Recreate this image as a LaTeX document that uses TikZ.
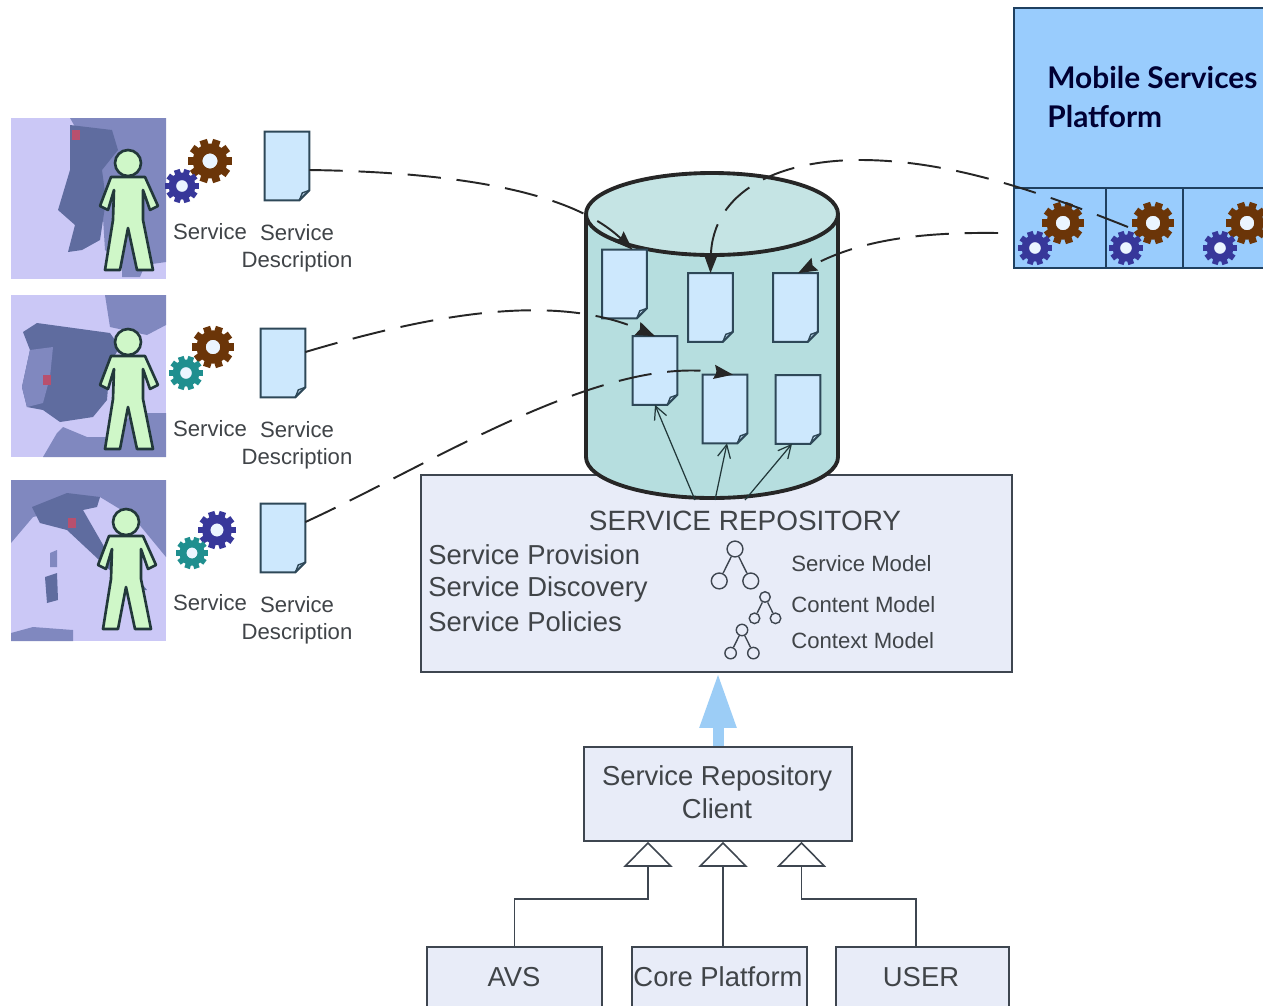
\documentclass[tikz,border=0pt]{standalone}
\usepackage{fontspec}
\setmainfont{Liberation Sans}
\newfontfamily\platformfont{Lato}
\usetikzlibrary{arrows.meta, positioning}
\definecolor{seablue}{HTML}{CBC8F6}
\definecolor{landmid}{HTML}{8088BF}
\definecolor{landdark}{HTML}{5F6C9F}
\definecolor{markred}{HTML}{B8506E}
\definecolor{bodygreen}{HTML}{CFF7C8}
\definecolor{inkdark}{HTML}{22383A}
\definecolor{docblue}{HTML}{CDE8FD}
\definecolor{docline}{HTML}{2E4858}
\definecolor{storeside}{HTML}{B6DEDF}
\definecolor{storetop}{HTML}{C5E4E4}
\definecolor{boxfill}{HTML}{E8ECF8}
\definecolor{boxline}{HTML}{3E4650}
\definecolor{platformblue}{HTML}{99CCFD}
\definecolor{platformline}{HTML}{1F4060}
\definecolor{bigarrow}{HTML}{9CCDF6}
\definecolor{cogbrown}{HTML}{6B3508}
\definecolor{cogblue}{HTML}{37379A}
\definecolor{cogteal}{HTML}{1F8F8F}
\definecolor{labelgrey}{HTML}{404448}
\tikzstyle{servicedoc} = [inner sep=0pt, minimum width=.88cm, minimum height=1.36cm, append after command={\pgfextra{\draw[docline, fill=docblue, line width=1.2pt] (\tikzlastnode.north west) -- (\tikzlastnode.north east) -- ([yshift=.2cm]\tikzlastnode.south east) -- ([xshift=-.2cm]\tikzlastnode.south east) -- (\tikzlastnode.south west) -- cycle; \draw[docline, line width=.8pt] ([yshift=.2cm]\tikzlastnode.south east) -- ([xshift=-.14cm, yshift=.15cm]\tikzlastnode.south east) -- ([xshift=-.2cm]\tikzlastnode.south east);}}]
\tikzstyle{umlbox} = [draw=boxline, fill=boxfill, line width=.9pt, inner sep=0pt, text=labelgrey, font=\fontsize{15.6}{18.7}\selectfont, align=center]
\tikzstyle{platformbox} = [draw=platformline, fill=platformblue, line width=1pt, inner sep=0pt]
\tikzstyle{smalllabel} = [text=labelgrey, font=\fontsize{12.6}{15.3}\selectfont, align=center, inner sep=0pt]
\tikzstyle{biglabel} = [text=labelgrey, font=\fontsize{15.6}{18.9}\selectfont, anchor=west, inner sep=0pt]
\tikzstyle{dashlink} = [draw=black!85, line width=1.1pt, dash pattern=on 19pt off 9pt, -{Stealth[length=.38cm,width=.28cm,inset=.05cm]}]
\tikzstyle{fanlink} = [draw=inkdark, line width=.7pt, -{Straight Barb[length=.26cm,width=.26cm]}]
\tikzstyle{inheritlink} = [draw=boxline, line width=.9pt, -{Triangle[open, length=.5cm, width=.98cm]}]
\tikzstyle{modelnode} = [circle, draw=boxline, line width=.8pt, inner sep=0pt]
\tikzset{person/.pic={
	\draw[inkdark, fill=bodygreen, line width=1.5pt, line join=round] (-17,14) -- (17,14) -- (30,43) -- (22,47) -- (15,27) -- (15,57) -- (25,107) -- (9,107) -- (0,65) -- (-8,107) -- (-23,107) -- (-15,57) -- (-14,27) -- (-20,47) -- (-28,43) -- cycle;
	\draw[inkdark, fill=bodygreen, line width=1.5pt] (0,0) circle (13);
}}
\newcommand{\cog}[4]{
	\foreach \a in {0,36,...,324}
		\draw[#4, line width=#3*.2pt] (#1,#2) ++(\a:#3*.65) -- ++(\a:#3*.35);
	\draw[#4, line width=#3*.25pt, fill=white!80!platformblue] (#1,#2) circle (#3*.57);
}
\newcommand{\modeltree}[4]{
	\node[modelnode, minimum size=#4] (#1top) at (#2,#3) {};
	\node[modelnode, minimum size=#4] (#1left) at (#2-#4*1.75,#3+#4*3.55) {};
	\node[modelnode, minimum size=#4] (#1right) at (#2+#4*1.75,#3+#4*3.55) {};
	\draw[boxline, line width=.8pt] (#1left) -- (#1top) -- (#1right);
}
\begin{document}
\begin{tikzpicture}[x=.02cm, y=-.02cm]
	\useasboundingbox (0,0) rectangle (1263,1005);
	\clip (0,0) rectangle (1263,1005);
	\fill[white] (0,0) rectangle (1263,1005);
	\begin{scope}
		\clip (11,118) rectangle (166,279);
		\fill[seablue] (11,118) rectangle (166,279);
		\fill[landmid] (70,118) -- (166,118) -- (166,262) -- (145,265) -- (140,277) -- (122,277) -- (122,265) -- (105,250) -- (100,170) -- cycle;
		\fill[landdark] (70,125) -- (112,130) -- (118,150) -- (102,170) -- (106,200) -- (100,240) -- (82,250) -- (68,252) -- (75,225) -- (58,210) -- (70,170) -- cycle;
		\fill[markred] (72,130) rectangle (80,140);
	\end{scope}
	\begin{scope}
		\clip (11,295) rectangle (166,457);
		\fill[seablue] (11,295) rectangle (166,457);
		\fill[landmid] (105,295) -- (166,295) -- (166,325) -- (147,335) -- (110,327) -- cycle;
		\fill[landmid] (43,457) -- (57,433) -- (63,427) -- (87,437) -- (110,437) -- (133,413) -- (166,413) -- (166,457) -- cycle;
		\fill[landdark] (23,332) -- (37,323) -- (110,333) -- (120,347) -- (110,363) -- (107,400) -- (93,417) -- (60,422) -- (43,410) -- (27,407) -- (22,387) -- (30,350) -- cycle;
		\fill[landmid] (30,350) -- (53,347) -- (50,377) -- (43,403) -- (27,407) -- (22,387) -- cycle;
		\fill[markred] (43,375) rectangle (51,385);
	\end{scope}
	\begin{scope}
		\clip (11,480) rectangle (166,641);
		\fill[seablue] (11,480) rectangle (166,641);
		\fill[landmid] (11,480) -- (166,480) -- (166,557) -- (133,517) -- (100,497) -- (97,503) -- (33,517) -- (11,543) -- cycle;
		\fill[landdark] (32,507) -- (67,493) -- (100,497) -- (97,507) -- (83,510) -- (110,557) -- (133,573) -- (147,590) -- (133,590) -- (113,573) -- (67,530) -- (40,523) -- cycle;
		\fill[landdark] (45,577) -- (57,573) -- (58,600) -- (47,603) -- cycle;
		\fill[landmid] (50,553) -- (57,550) -- (57,567) -- (50,567) -- cycle;
		\fill[landmid] (11,633) -- (33,627) -- (73,630) -- (73,641) -- (11,641) -- cycle;
		\fill[markred] (68,518) rectangle (76,528);
	\end{scope}
	\pic at (128,163) {person};
	\pic at (128,342) {person};
	\pic at (126,522) {person};
	\cog{210}{161}{22}{cogbrown}
	\cog{182}{186}{17}{cogblue}
	\cog{213}{347}{21}{cogbrown}
	\cog{186}{373}{17}{cogteal}
	\cog{217}{530}{19}{cogblue}
	\cog{192}{553}{16}{cogteal}
	\node[servicedoc] (sdocA) at (287,166) {};
	\node[servicedoc] (sdocB) at (283,363) {};
	\node[servicedoc] (sdocC) at (283,538) {};
	\node[smalllabel] (svcA) at (210,232) {Service};
	\node[smalllabel] (svcB) at (210,429) {Service};
	\node[smalllabel] (svcC) at (210,603) {Service};
	\node[smalllabel] (descA) at (297,248) {Service\\Description};
	\node[smalllabel] (descB) at (297,445) {Service\\Description};
	\node[smalllabel] (descC) at (297,620) {Service\\Description};
	\node[platformbox, minimum width=5.22cm, minimum height=3.6cm, line width=1.3pt] (platform) at (1144.5,98) {};
	\node[platformbox, minimum width=1.84cm, minimum height=1.6cm] (cellA) at (1060,228) {};
	\node[platformbox, minimum width=1.54cm, minimum height=1.6cm] (cellB) at (1144.5,228) {};
	\node[platformbox, minimum width=1.84cm, minimum height=1.6cm] (cellC) at (1229,228) {};
	\node[anchor=west, align=left, inner sep=0pt, text=black!80!blue, font=\platformfont\bfseries\fontsize{17}{22}\selectfont] (platformtext) at (1047,97) {Mobile Services\\Platform};
	\cog{1063}{223}{21}{cogbrown}
	\cog{1035}{248}{17}{cogblue}
	\cog{1153}{223}{21}{cogbrown}
	\cog{1126}{248}{17}{cogblue}
	\cog{1247}{223}{21}{cogbrown}
	\cog{1220}{248}{17}{cogblue}
	\node[umlbox, minimum width=11.82cm, minimum height=3.94cm] (repobox) at (716.5,573.5) {};
	\draw[storeside, fill=storeside] (586,214) -- (586,457) arc (180:0:126 and 41) -- (838,214) -- cycle;
	\draw[black!85, line width=2.2pt] (586,214) -- (586,457) arc (180:0:126 and 41) -- (838,214);
	\draw[black!85, fill=storetop, line width=2.2pt] (712,214) circle (126 and 41);
	\node[servicedoc] (repoA) at (624.5,284) {};
	\node[servicedoc] (repoB) at (710.5,307.5) {};
	\node[servicedoc] (repoC) at (795.5,307.5) {};
	\node[servicedoc] (repoD) at (655,370.5) {};
	\node[servicedoc] (repoE) at (725,409) {};
	\node[servicedoc] (repoF) at (798,409.5) {};
	\node[inner sep=0pt, text=labelgrey, font=\fontsize{15.9}{18}\selectfont] (repotitle) at (745,521) {SERVICE REPOSITORY};
	\node[biglabel] (provision) at (428,555) {Service Provision};
	\node[biglabel] (discovery) at (428,589) {Service Discovery};
	\node[biglabel] (policies) at (428,622) {Service Policies};
	\node[smalllabel, anchor=west] (servicemodel) at (791,564) {Service Model};
	\node[smalllabel, anchor=west] (contentmodel) at (791,605) {Content Model};
	\node[smalllabel, anchor=west] (contextmodel) at (791,641) {Context Model};
	\modeltree{treeA}{735}{549}{9}
	\modeltree{treeB}{765}{597}{6}
	\modeltree{treeC}{742}{630}{6.5}
	\node[umlbox, minimum width=5.36cm, minimum height=1.88cm] (clientbox) at (718,794) {};
	\node[inner sep=0pt, text=labelgrey, align=center, font=\fontsize{15.6}{18.7}\selectfont] (clienttext) at (717,792) {Service Repository\\Client};
	\node[umlbox, minimum width=3.5cm, minimum height=1.4cm] (avsbox) at (514.5,982) {};
	\node[umlbox, minimum width=3.5cm, minimum height=1.4cm] (corebox) at (719.5,982) {};
	\node[umlbox, minimum width=3.46cm, minimum height=1.4cm] (userbox) at (922.5,982) {};
	\node[text=labelgrey, inner sep=0pt, font=\fontsize{15.6}{18}\selectfont] (avstext) at (514,977) {AVS};
	\node[text=labelgrey, inner sep=0pt, font=\fontsize{15.6}{18}\selectfont] (coretext) at (718,977) {Core Platform};
	\node[text=labelgrey, inner sep=0pt, font=\fontsize{15.6}{18}\selectfont] (usertext) at (921,977) {USER};
	\draw[inheritlink] (avsbox.north) -- ++(0,-47) -| ([xshift=-1.4cm]clientbox.south);
	\draw[inheritlink] ([xshift=.07cm]corebox.north) -- ([xshift=.1cm]clientbox.south);
	\draw[inheritlink] (userbox.north) ++(-6.5,0) -- ++(0,-47) -| ([xshift=1.67cm]clientbox.south);
	\draw[bigarrow, line width=.22cm, -{Triangle[length=1.1cm,width=.68cm]}] (clientbox.north) -- (clientbox.north |- repobox.south);
	\coordinate (fanA) at (695,500);
	\coordinate (fanB) at (715,500);
	\coordinate (fanC) at (745,500);
	\draw[fanlink] (fanA) -- (repoD.south);
	\draw[fanlink] (fanB) -- ([xshift=.04cm]repoE.south);
	\draw[fanlink] (fanC) -- ([xshift=-.12cm]repoF.south);
	\coordinate (gearstart) at (1128,227);
	\coordinate (cellstart) at (998,233);
	\draw[dashlink] ([yshift=-.08cm]sdocA.east) .. controls (450,172) and (570,190) .. ([xshift=.16cm]repoA.north);
	\draw[dashlink] ([yshift=.22cm]sdocB.east) .. controls (420,318) and (550,290) .. (repoD.north);
	\draw[dashlink] ([yshift=.32cm]sdocC.east) .. controls (430,465) and (600,355) .. ([xshift=.16cm]repoE.north);
	\draw[dashlink] (gearstart) .. controls (1040,192) and (950,160) .. (860,160) .. controls (780,160) and (712,190) .. (repoB.north);
	\draw[dashlink] (cellstart) .. controls (920,232) and (860,240) .. ([xshift=.05cm]repoC.north);
\end{tikzpicture}
\end{document}
